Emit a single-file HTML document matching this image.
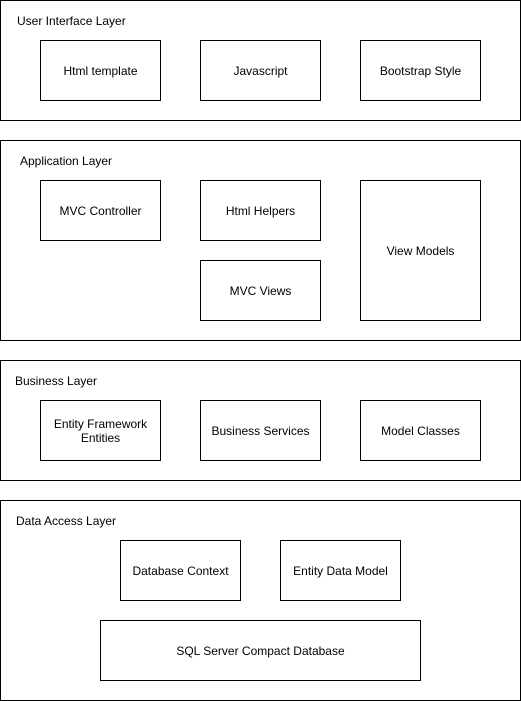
<!DOCTYPE html>
<html><head><meta charset="utf-8"><style>html,body{margin:0;padding:0;background:#fff}svg{display:block}text{font-family:"Liberation Sans",Arial,sans-serif;font-size:12px;fill:#000}</style></head><body>
<svg width="521" height="701" viewBox="0 0 521 701" xmlns="http://www.w3.org/2000/svg">
<g fill="#fff" stroke="#000" stroke-width="1">
<rect x="0.5" y="0.5" width="520" height="120"/>
<rect x="0.5" y="140.5" width="520" height="200"/>
<rect x="0.5" y="360.5" width="520" height="120"/>
<rect x="0.5" y="500.5" width="520" height="200"/>
<rect x="40.5" y="40.5" width="120" height="60"/>
<rect x="200.5" y="40.5" width="120" height="60"/>
<rect x="360.5" y="40.5" width="120" height="60"/>
<rect x="40.5" y="180.5" width="120" height="60"/>
<rect x="200.5" y="180.5" width="120" height="60"/>
<rect x="200.5" y="260.5" width="120" height="60"/>
<rect x="360.5" y="180.5" width="120" height="140"/>
<rect x="40.5" y="400.5" width="120" height="60"/>
<rect x="200.5" y="400.5" width="120" height="60"/>
<rect x="360.5" y="400.5" width="120" height="60"/>
<rect x="120.5" y="540.5" width="120" height="60"/>
<rect x="280.5" y="540.5" width="120" height="60"/>
<rect x="100.5" y="620.5" width="320" height="60"/>
</g>
<text x="17" y="25">User Interface Layer</text>
<text x="20" y="165">Application Layer</text>
<text x="15" y="385">Business Layer</text>
<text x="16" y="525">Data Access Layer</text>
<g text-anchor="middle">
<text x="100.5" y="75">Html template</text>
<text x="260.5" y="75">Javascript</text>
<text x="420.5" y="75">Bootstrap Style</text>
<text x="100.5" y="215">MVC Controller</text>
<text x="260.5" y="215">Html Helpers</text>
<text x="260.5" y="295">MVC Views</text>
<text x="420.5" y="255">View Models</text>
<text x="100.5" y="428">Entity Framework</text>
<text x="100.5" y="442">Entities</text>
<text x="260.5" y="435">Business Services</text>
<text x="420.5" y="435">Model Classes</text>
<text x="180.5" y="575">Database Context</text>
<text x="340.5" y="575">Entity Data Model</text>
<text x="260.5" y="655">SQL Server Compact Database</text>
</g>
</svg>
</body></html>
